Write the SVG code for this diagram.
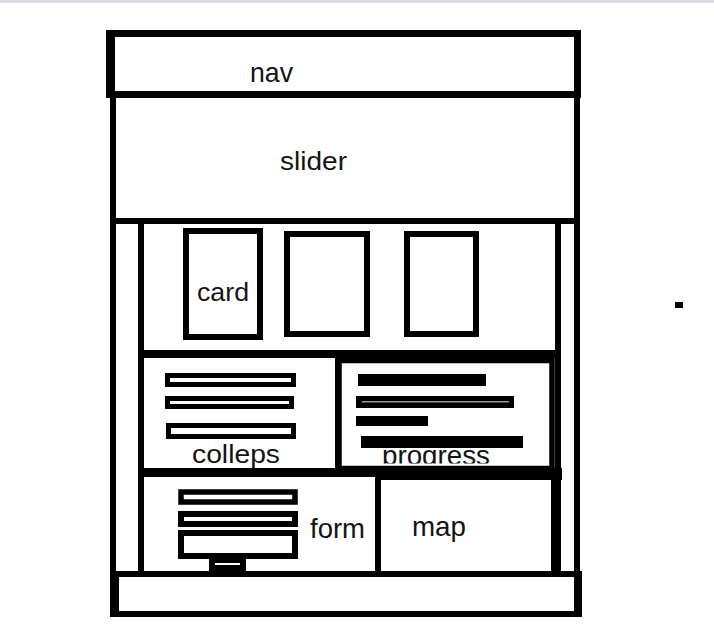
<svg xmlns="http://www.w3.org/2000/svg" width="714" height="631" viewBox="0 0 714 631">
<style>
.box{fill:none;stroke:#000}
.blk{fill:#000}
.wht{fill:#fff}
.lbl{font-family:"Liberation Sans",Arial,sans-serif;fill:#141414}
</style>
<defs>
<clipPath id="progClip"><rect x="342" y="362" width="207" height="101.5"/></clipPath>
</defs>
<rect x="0" y="0" width="714" height="631" fill="#fff"/>
<rect x="0" y="0" width="714" height="3" fill="#dcdde4"/>

<g id="frame">
<rect class="box" x="113" y="95" width="464" height="519" stroke-width="6"/>
</g>

<g id="nav">
<rect class="box" x="109.5" y="33.5" width="468" height="61" stroke-width="7"/>
<rect class="blk" x="106" y="30" width="9" height="68"/>
<text class="lbl" x="250" y="82" font-size="28" textLength="43" lengthAdjust="spacingAndGlyphs">nav</text>
</g>

<g id="slider">
<rect class="blk" x="110" y="218" width="470" height="6"/>
<text class="lbl" x="280" y="170" font-size="26" textLength="67" lengthAdjust="spacingAndGlyphs">slider</text>
</g>

<g id="content">
<rect class="blk" x="138" y="221" width="6" height="353"/>
<rect class="blk" x="555" y="221" width="6" height="353"/>
<rect class="blk" x="141" y="350" width="417" height="8"/>
</g>

<g id="card1">
<rect class="box" x="186" y="231" width="74" height="106" stroke-width="6"/>
<text class="lbl" x="197" y="301" font-size="26" textLength="52" lengthAdjust="spacingAndGlyphs">card</text>
</g>
<g id="card2">
<rect class="box" x="287" y="234" width="80" height="100" stroke-width="6"/>
</g>
<g id="card3">
<rect class="box" x="407" y="234" width="69" height="100" stroke-width="6"/>
</g>

<g id="colleps">
<rect class="blk" x="335" y="354" width="6" height="118"/>
<rect class="box" x="167.5" y="375.5" width="126" height="9" stroke-width="5"/>
<rect class="box" x="167.5" y="398.5" width="124" height="8" stroke-width="5"/>
<rect class="box" x="168.5" y="425.5" width="125" height="11" stroke-width="5"/>
<text class="lbl" x="192" y="463" font-size="26" textLength="88" lengthAdjust="spacingAndGlyphs">colleps</text>
</g>

<g id="progress">
<rect class="box" x="339" y="360.5" width="213" height="108" stroke-width="5.5"/>
<rect class="blk" x="358" y="374" width="128" height="12"/>
<rect class="blk" x="356" y="396" width="158" height="12"/>
<rect x="362" y="401" width="147" height="1.5" fill="#9a9a9a"/>
<rect class="blk" x="356" y="416" width="72" height="10"/>
<rect class="blk" x="361" y="436" width="162" height="12"/>
<text class="lbl" x="382" y="465" font-size="27" textLength="108" lengthAdjust="spacingAndGlyphs" clip-path="url(#progClip)">progress</text>
</g>

<g id="form">
<rect class="blk" x="141" y="468" width="421" height="9"/>
<rect class="blk" x="375" y="472" width="6" height="102"/>
<rect class="box" x="181" y="492" width="114" height="10" stroke-width="5.5"/>
<rect class="box" x="181" y="514" width="114" height="10" stroke-width="6"/>
<rect class="box" x="181" y="533" width="114" height="23" stroke-width="6"/>
<rect class="blk" x="209" y="557" width="37" height="14"/>
<rect class="wht" x="215" y="563" width="25" height="2"/>
<text class="lbl" x="310" y="538" font-size="28" textLength="55" lengthAdjust="spacingAndGlyphs">form</text>
</g>

<g id="map">
<rect class="blk" x="378" y="470" width="184" height="10"/>
<rect class="blk" x="551" y="470" width="9" height="103"/>
<text class="lbl" x="412" y="536" font-size="28" textLength="54" lengthAdjust="spacingAndGlyphs">map</text>
</g>

<g id="footer">
<rect class="box" x="114" y="574" width="465" height="40" stroke-width="6"/>
<rect class="blk" x="110" y="571" width="9" height="46"/>
</g>

<rect class="blk" x="675" y="302" width="8" height="6"/>
</svg>
